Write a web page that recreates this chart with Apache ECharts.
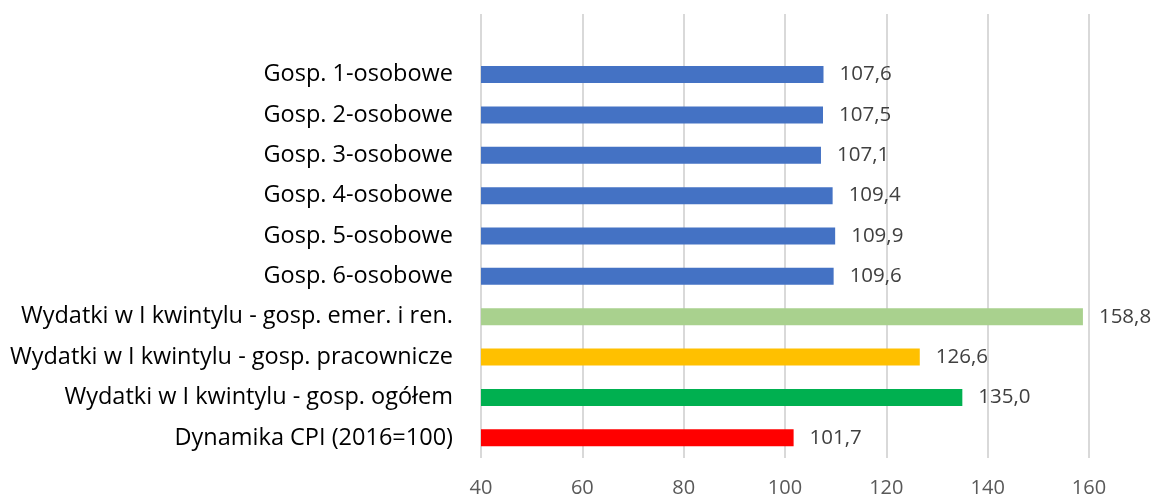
<!DOCTYPE html>
<html>
<head>
<meta charset="utf-8">
<script src="https://cdn.jsdelivr.net/npm/echarts@6/dist/echarts.min.js"></script>
<style>html,body{margin:0;padding:0;background:#fff}#c{width:1152px;height:498px}</style>
</head>
<body>
<div id="c"></div>
<script>
const categories = [
  "",
  "Gosp. 1-osobowe",
  "Gosp. 2-osobowe",
  "Gosp. 3-osobowe",
  "Gosp. 4-osobowe",
  "Gosp. 5-osobowe",
  "Gosp. 6-osobowe",
  "Wydatki w I kwintylu - gosp. emer. i ren.",
  "Wydatki w I kwintylu - gosp. pracownicze",
  "Wydatki w I kwintylu - gosp. ogółem",
  "Dynamika CPI (2016=100)"
];
const values = [null, 107.6, 107.5, 107.1, 109.4, 109.9, 109.6, 158.8, 126.6, 135.0, 101.7];
const xTicks = [40, 60, 80, 100, 120, 140, 160];

const barColors = ["#4472C4","#4472C4","#4472C4","#4472C4","#4472C4","#4472C4","#4472C4","#A9D18E","#FFC000","#00B050","#FF0000"];

const chart = echarts.init(document.getElementById('c'));
chart.setOption({
  animation: false,
  grid: { left: 481, right: 63, top: 14, bottom: 40, containLabel: false },
  xAxis: {
    type: 'value',
    min: xTicks[0],
    max: xTicks[xTicks.length - 1],
    interval: xTicks[1] - xTicks[0],
    axisLine: { show: false },
    axisTick: { show: false },
    splitLine: { lineStyle: { color: '#d9d9d9', width: 2 } },
    axisLabel: { color: '#595959', fontSize: 20, fontFamily: 'Open Sans', margin: 20 }
  },
  yAxis: {
    type: 'category',
    inverse: true,
    data: categories,
    axisLine: { show: false },
    axisTick: { show: false },
    axisLabel: { color: '#000', fontSize: 23.5, fontFamily: 'Open Sans', margin: 28 }
  },
  series: [{
    type: 'bar',
    barWidth: 17,
    data: values.map((v, i) => ({ value: v, itemStyle: { color: barColors[i] } })),
    label: {
      show: true,
      position: 'right',
      distance: 16,
      color: '#404040',
      fontSize: 20.5,
      fontFamily: 'Open Sans',
      formatter: p => p.value == null ? '' : p.value.toFixed(1).replace('.', ',')
    }
  }]
});
</script>
</body>
</html>
